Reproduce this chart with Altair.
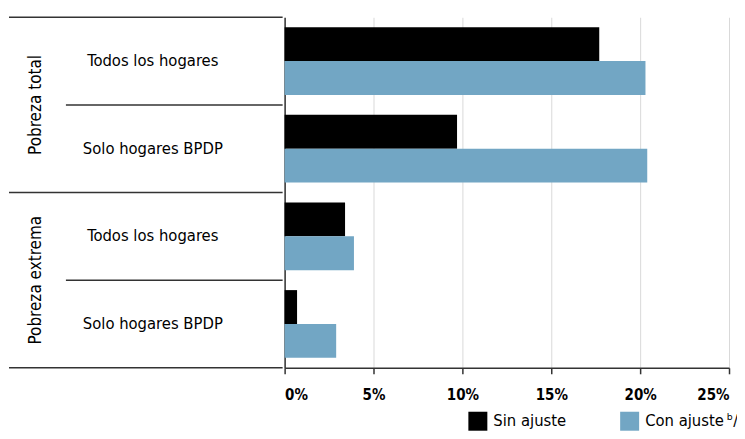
import altair as alt
import pandas as pd

groups = ["Pobreza total", "Pobreza total", "Pobreza extrema", "Pobreza extrema"]
subgroups = ["Todos los hogares", "Solo hogares BPDP", "Todos los hogares", "Solo hogares BPDP"]
sin_ajuste = [17.7, 9.7, 3.4, 0.7]
con_ajuste = [20.3, 20.4, 3.9, 2.9]
series = ["Sin ajuste", "Con ajuste\u2009ᵇ/"]
colors = ["#000000", "#72a6c4"]
x_ticks = [0, 5, 10, 15, 20, 25]

FONT = "DejaVu Sans Condensed, Liberation Sans Narrow, sans-serif"

keys = [f"{g} | {s}" for g, s in zip(groups, subgroups)]
rows = []
for k, a, b in zip(keys, sin_ajuste, con_ajuste):
    rows.append({"key": k, "serie": series[0], "valor": a})
    rows.append({"key": k, "serie": series[1], "valor": b})
bars_df = pd.DataFrame(rows)

labels_df = pd.DataFrame({
    "key": keys,
    "group": groups,
    "sub": subgroups,
    "group_start": [True, False, True, False],
    "first": [True, False, False, False],
})

H = 351
LW = 274
BW = 445

y_bars = alt.Scale(domain=keys, paddingInner=0.227, paddingOuter=0.1136)
y_lab = alt.Scale(domain=keys, paddingInner=0, paddingOuter=0)

bars = alt.Chart(bars_df).mark_bar().encode(
    x=alt.X("valor:Q", scale=alt.Scale(domain=[0, 25], nice=False),
            axis=alt.Axis(values=x_ticks, labelExpr="datum.value + '%'", title=None,
                          grid=True, gridColor="#d9d9d9", gridWidth=1,
                          domainColor="#333333", domainWidth=1.5,
                          tickColor="#333333", tickSize=6, tickWidth=1.5,
                          labelFont=FONT, labelFontSize=15, labelFontWeight="bold",
                          labelColor="black", labelPadding=14)),
    y=alt.Y("key:N", scale=y_bars, sort=keys,
            axis=alt.Axis(labels=False, ticks=False, title=None, grid=False,
                          domainColor="#333333", domainWidth=1.5)),
    yOffset=alt.YOffset("serie:N", sort=series, scale=alt.Scale(domain=series, paddingInner=0, paddingOuter=0)),
    color=alt.Color("serie:N", sort=series,
                    scale=alt.Scale(domain=series, range=colors),
                    legend=alt.Legend(title=None, orient="none", legendX=460, legendY=395,
                                      direction="horizontal", symbolType="square",
                                      symbolSize=361, symbolStrokeWidth=0,
                                      labelFont=FONT, labelFontSize=16.5, labelColor="black",
                                      columnPadding=54, labelOffset=6)),
).properties(width=BW, height=H)

base = alt.Chart(labels_df)

top_rule = base.transform_filter("datum.first").mark_rule(color="#333333", strokeWidth=1.5).encode(
    y=alt.Y("key:N", scale=y_lab, sort=keys, bandPosition=0, axis=None),
    x=alt.value(0), x2=alt.value(LW),
)
inner_rule = base.transform_filter("datum.group_start").mark_rule(color="#333333", strokeWidth=1.5).encode(
    y=alt.Y("key:N", scale=y_lab, sort=keys, bandPosition=1, axis=None),
    x=alt.value(57), x2=alt.value(LW),
)
outer_rule = base.transform_filter("!datum.group_start").mark_rule(color="#333333", strokeWidth=1.5).encode(
    y=alt.Y("key:N", scale=y_lab, sort=keys, bandPosition=1, axis=None),
    x=alt.value(0), x2=alt.value(LW),
)
sub_text = base.mark_text(font=FONT, fontSize=16.5, color="black", align="center", baseline="middle").encode(
    y=alt.Y("key:N", scale=y_lab, sort=keys, axis=None),
    x=alt.value(144),
    text="sub:N",
)
group_text = base.transform_filter("datum.group_start").mark_text(
    font=FONT, fontSize=17, color="black", align="center", baseline="middle", angle=270).encode(
    y=alt.Y("key:N", scale=y_lab, sort=keys, bandPosition=1, axis=None),
    x=alt.value(27),
    text="group:N",
)

labels_panel = alt.layer(top_rule, inner_rule, outer_rule, sub_text, group_text).properties(width=LW, height=H)

chart = alt.hconcat(labels_panel, bars, spacing=0).resolve_scale(y="independent").properties(
    padding={"left": 0, "top": 8, "right": -2, "bottom": 0}
).configure_view(stroke=None)

chart.save("out.html", embed_options={"renderer": "svg", "actions": False})
